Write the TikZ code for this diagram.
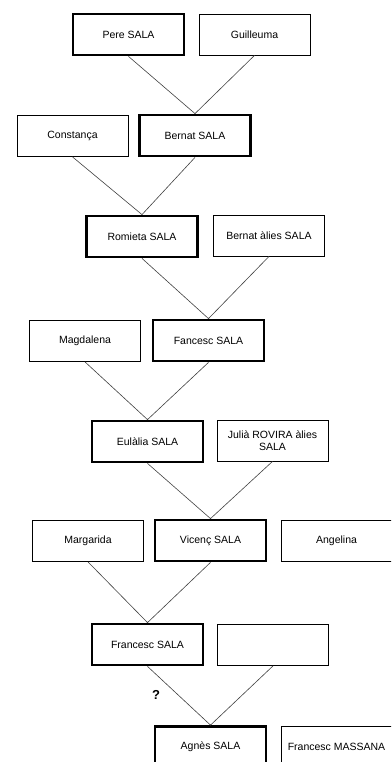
\documentclass[tikz,border=0pt]{standalone}
\usepackage{fontspec}
\setmainfont{Liberation Sans}

\tikzset{
  person/.style={draw, line width=0.8pt, minimum width=111pt, minimum height=41pt,
    inner sep=1pt, align=center, font=\fontsize{10.5}{12.5}\selectfont},
  sala/.style={person, line width=2.8pt},
  link/.style={line width=0.6pt, draw=black!75}
}

\begin{document}
\begin{tikzpicture}[x=1pt, y=-1pt]
	\useasboundingbox (0,0) rectangle (391,762);
	\clip (0,0) rectangle (391,762);

	\node [sala]   (pere)     at (128.5, 34.5) {Pere SALA};
	\node [person] (guilleuma) at (254.5, 34.5) {Guilleuma};
	\node [person] (constanca) at (72.5, 136) {Constança};
	\node [sala]   (bernat)   at (195, 135.5) {Bernat SALA};
	\node [sala]   (romieta)  at (142, 236.5) {Romieta SALA};
	\node [person] (bernatal) at (269, 235.5) {Bernat àlies SALA};
	\node [person] (magdalena) at (85, 341) {Magdalena};
	\node [sala]   (fancesc)  at (208.5, 340.5) {Fancesc SALA};
	\node [sala]   (eulalia)  at (147.5, 441.5) {Eulàlia SALA};
	\node [person] (julia)    at (272.5, 440.5) {Julià ROVIRA àlies\\SALA};
	\node [person] (margarida) at (88, 541) {Margarida};
	\node [sala]   (vicenc)   at (210.5, 540.5) {Vicenç SALA};
	\node [person] (angelina) at (336.5, 541) {Angelina};
	\node [sala]   (francesc) at (147.5, 644.5) {Francesc SALA};
	\node [person] (empty)    at (273, 645) {};
	\node [sala]   (agnes)    at (210.5, 747) {Agnès SALA};
	\node [person] (massana)  at (336.5, 747) {Francesc MASSANA};

	\draw [link] (pere.south) -- (bernat.north) -- (guilleuma.south);
	\draw [link] (constanca.south) -- (romieta.north) -- (bernat.south);
	\draw [link] (romieta.south) -- (fancesc.north) -- (bernatal.south);
	\draw [link] (magdalena.south) -- (eulalia.north) -- (fancesc.south);
	\draw [link] (eulalia.south) -- (vicenc.north) -- (julia.south);
	\draw [link] (margarida.south) -- (francesc.north) -- (vicenc.south);
	\draw [link] (francesc.south) -- (agnes.north) -- (empty.south);

	% dubtos
	\node [font=\fontsize{13}{15}\selectfont\bfseries] (dubte) at (156, 695) {?};
\end{tikzpicture}
\end{document}
